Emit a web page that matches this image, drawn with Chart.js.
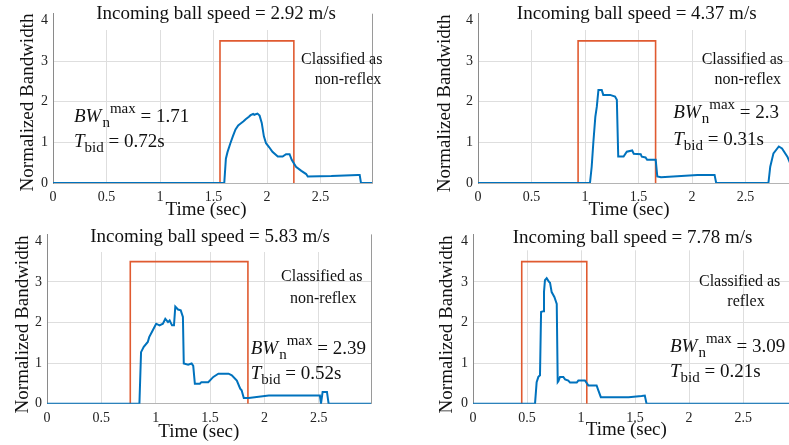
<!DOCTYPE html>
<html>
<head>
<meta charset="utf-8">
<title>Normalized bandwidth vs time</title>
<script src="https://cdn.jsdelivr.net/npm/chart.js@4.4.0/dist/chart.umd.min.js"></script>
<style>
  html, body { margin: 0; padding: 0; overflow: hidden; background: #fff; }
  body { position: relative; width: 789px; height: 445px; }
  canvas { position: absolute; }
</style>
</head>
<body>
<canvas id="c1" width="395" height="222" style="left:0px;top:0px"></canvas>
<canvas id="c2" width="395" height="222" style="left:425px;top:0px"></canvas>
<canvas id="c3" width="395" height="223" style="left:0px;top:222px"></canvas>
<canvas id="c4" width="395" height="223" style="left:420px;top:222px"></canvas>
<script>
// axis ticks
var xTicks = [0, 0.5, 1, 1.5, 2, 2.5];
var yTicks = [0, 1, 2, 3, 4];
var xMax = 2.98;
var yMax = 4.17;

// per panel labels
var speeds = ['2.92', '4.37', '5.83', '7.78'];
var classes = ['non-reflex', 'non-reflex', 'non-reflex', 'reflex'];
var bwMax = ['1.71', '2.3', '2.39', '3.09'];
var tBid = ['0.72s', '0.31s', '0.52s', '0.21s'];

// red classification window (start, end) in sec, and its level
var winStart = [1.56, 0.935, 0.766, 0.451];
var winEnd = [2.25, 1.659, 1.848, 1.053];
var winLevel = 3.5;

// blue curves: time (sec) / normalized bandwidth
var t1 = [0, 1.60, 1.615, 1.63, 1.657, 1.68, 1.705, 1.73, 1.75, 1.78, 1.80, 1.83, 1.846, 1.87, 1.88, 1.91, 1.93, 1.95, 1.97, 1.99, 2.02, 2.05, 2.10, 2.145, 2.177, 2.21, 2.23, 2.27, 2.32, 2.365, 2.38, 2.6, 2.85, 2.865, 2.877, 2.98];
var bw1 = [0, 0, 0.6, 0.76, 0.98, 1.15, 1.32, 1.42, 1.46, 1.52, 1.57, 1.63, 1.67, 1.70, 1.68, 1.71, 1.66, 1.48, 1.15, 0.98, 0.88, 0.77, 0.65, 0.65, 0.71, 0.71, 0.57, 0.40, 0.30, 0.22, 0.16, 0.17, 0.20, 0.20, 0, 0];

var t2 = [0, 1.046, 1.062, 1.077, 1.096, 1.11, 1.125, 1.156, 1.17, 1.234, 1.28, 1.297, 1.31, 1.36, 1.39, 1.44, 1.455, 1.52, 1.53, 1.565, 1.58, 1.66, 1.675, 1.71, 2.05, 2.21, 2.225, 2.713, 2.73, 2.76, 2.81, 2.84, 2.89, 2.93, 2.98];
var bw2 = [0, 0, 0.40, 0.98, 1.63, 1.88, 2.29, 2.29, 2.17, 2.17, 2.13, 2.05, 0.65, 0.65, 0.77, 0.80, 0.72, 0.71, 0.65, 0.63, 0.57, 0.57, 0.16, 0.14, 0.20, 0.20, 0, 0, 0.40, 0.73, 0.90, 0.85, 0.65, 0.40, 0.20];

var t3 = [0, 0.85, 0.865, 0.89, 0.927, 0.94, 0.973, 1.004, 1.035, 1.066, 1.088, 1.113, 1.128, 1.15, 1.168, 1.18, 1.205, 1.23, 1.25, 1.258, 1.298, 1.33, 1.345, 1.36, 1.406, 1.42, 1.483, 1.53, 1.576, 1.67, 1.70, 1.746, 1.777, 1.79, 1.81, 1.855, 2.04, 2.51, 2.52, 2.535, 2.575, 2.59, 2.98];
var bw3 = [0, 0, 1.27, 1.40, 1.52, 1.64, 1.81, 1.97, 1.93, 1.97, 2.09, 2.01, 2.05, 1.93, 1.93, 2.39, 2.32, 2.30, 2.14, 0.99, 0.96, 0.99, 0.93, 0.49, 0.49, 0.53, 0.53, 0.66, 0.74, 0.74, 0.70, 0.57, 0.37, 0.33, 0.14, 0.14, 0.20, 0.20, 0, 0.29, 0.29, 0, 0];

var t4 = [0, 0.574, 0.589, 0.605, 0.62, 0.63, 0.65, 0.657, 0.666, 0.682, 0.703, 0.713, 0.728, 0.753, 0.775, 0.784, 0.79, 0.805, 0.836, 0.852, 0.882, 0.898, 0.96, 0.975, 1.036, 1.067, 1.144, 1.16, 1.183, 1.44, 1.56, 1.59, 1.606, 2.98];
var bw4 = [0, 0, 0.53, 0.66, 0.70, 2.26, 2.28, 2.75, 3.04, 3.09, 3.0, 2.98, 2.75, 2.63, 2.46, 0.53, 0.55, 0.66, 0.66, 0.60, 0.57, 0.52, 0.52, 0.57, 0.57, 0.45, 0.45, 0.33, 0.16, 0.16, 0.19, 0.20, 0, 0];

var times = [t1, t2, t3, t4];
var values = [bw1, bw2, bw3, bw4];

var SERIF = "Liberation Serif";
var BLUE = '#0072BD';
var RED = '#E05A30';
var GRID = '#dedede';

// layout of each panel inside its canvas
var layouts = [
  { yW: 53, xH: 39, padT: 13.7, padR: 23, cover: 30,
    title: [216, 14], cls1: [341.7, 60, 'center'], cls2: [348, 80],
    bw: [74, 121.7], tb: [74, 146.7], yTitle: [28, 102.5], xTitle: [206, 210] },
  { yW: 53, xH: 39, padT: 13.7, padR: 23, cover: 30,
    title: [211.7, 14], cls1: [276.7, 60, 'left'], cls2: [322.7, 80],
    bw: [248.3, 118], tb: [248.3, 145], yTitle: [20, 103.3], xTitle: [204, 210] },
  { yW: 47, xH: 41.3, padT: 12.4, padR: 24, cover: 30,
    title: [210, 15], cls1: [321.7, 55, 'center'], cls2: [323.3, 76.7],
    bw: [250.7, 131.7], tb: [250.7, 156.7], yTitle: [23.3, 102.5], xTitle: [198.8, 210] },
  { yW: 53, xH: 41.3, padT: 12.4, padR: 20, cover: 28.3,
    title: [212.5, 16], cls1: [279, 59.3, 'left'], cls2: [326, 80],
    bw: [250, 130], tb: [250, 155], yTitle: [27.5, 102.5], xTitle: [206.3, 208.3] }
];

function points(xs, ys) {
  var out = [];
  for (var i = 0; i < xs.length; i++) out.push({ x: xs[i], y: ys[i] });
  return out;
}

function windowPoints(i) {
  return points([winStart[i], winStart[i], winEnd[i], winEnd[i]], [0, winLevel, winLevel, 0]);
}

function hideAt(values) {
  return function (c) {
    return values.indexOf(c.tick.value) >= 0 ? 'rgba(0,0,0,0)' : GRID;
  };
}

// white band under the title, plus the right frame line
var coverPlugin = {
  id: 'cover',
  beforeDatasetsDraw: function (chart, args, opts) {
    var a = chart.chartArea, ctx = chart.ctx;
    ctx.save();
    ctx.fillStyle = '#fff';
    ctx.fillRect(a.left + 1, a.top - 1, a.right - a.left - 1, opts.cover - a.top + 1);
    ctx.strokeStyle = '#9a9a9a';
    ctx.lineWidth = 1;
    ctx.beginPath();
    ctx.moveTo(Math.round(a.right) + 0.5, a.top);
    ctx.lineTo(Math.round(a.right) + 0.5, a.bottom);
    ctx.stroke();
    ctx.restore();
  }
};

var textPlugin = {
  id: 'texts',
  afterDraw: function (chart, args, opts) {
    var ctx = chart.ctx, L = opts.lay, i = opts.idx;
    ctx.save();
    ctx.fillStyle = '#111';

    ctx.font = '19px ' + SERIF;
    ctx.textAlign = 'center';
    ctx.textBaseline = 'middle';
    ctx.fillText('Incoming ball speed = ' + speeds[i] + ' m/s', L.title[0], L.title[1]);
    ctx.fillText('Time (sec)', L.xTitle[0], L.xTitle[1]);

    ctx.save();
    ctx.translate(L.yTitle[0], L.yTitle[1]);
    ctx.rotate(-Math.PI / 2);
    ctx.fillText('Normalized Bandwidth', 0, 0);
    ctx.restore();

    ctx.font = '16px ' + SERIF;
    ctx.textAlign = L.cls1[2];
    ctx.fillText('Classified as', L.cls1[0], L.cls1[1]);
    ctx.textAlign = 'center';
    ctx.fillText(classes[i], L.cls2[0], L.cls2[1]);

    // BW_n^max = ...
    ctx.textAlign = 'left';
    ctx.textBaseline = 'alphabetic';
    var x = L.bw[0], y = L.bw[1];
    ctx.font = 'italic 19px ' + SERIF;
    ctx.fillText('BW', x, y);
    x += ctx.measureText('BW').width + 1;
    ctx.font = '15px ' + SERIF;
    ctx.fillText('n', x, y + 5);
    x += ctx.measureText('n').width;
    ctx.fillText('max', x, y - 9);
    x += ctx.measureText('max').width;
    ctx.font = '19px ' + SERIF;
    ctx.fillText(' = ' + bwMax[i], x, y);

    // T_bid = ...
    x = L.tb[0]; y = L.tb[1];
    ctx.font = 'italic 19px ' + SERIF;
    ctx.fillText('T', x, y);
    x += ctx.measureText('T').width;
    ctx.font = '15px ' + SERIF;
    ctx.fillText('bid', x, y + 5);
    x += ctx.measureText('bid').width;
    ctx.font = '19px ' + SERIF;
    ctx.fillText(' = ' + tBid[i], x, y);

    ctx.restore();
  }
};

function makePanel(id, i) {
  var L = layouts[i];
  var tickFont = { family: SERIF, size: 14 };
  new Chart(document.getElementById(id), {
    type: 'line',
    data: {
      datasets: [
        { data: points(times[i], values[i]), borderColor: BLUE, borderWidth: 2, pointRadius: 0, tension: 0, fill: false },
        { data: windowPoints(i), borderColor: RED, borderWidth: 1.6, pointRadius: 0, tension: 0, fill: false }
      ]
    },
    options: {
      responsive: false,
      animation: false,
      events: [],
      layout: { padding: { left: 0, right: L.padR, top: L.padT, bottom: 0 } },
      scales: {
        x: {
          type: 'linear', min: 0, max: xMax,
          afterBuildTicks: function (s) { s.ticks = xTicks.map(function (v) { return { value: v }; }); },
          afterFit: function (s) { s.height = L.xH; s.paddingLeft = 0; s.paddingRight = 0; },
          grid: { color: hideAt([0]), drawTicks: false },
          border: { color: '#b4b4b4', width: 1 },
          ticks: { font: tickFont, color: '#222', padding: 6, autoSkip: false, maxRotation: 0,
                   callback: function (v) { return String(v); } }
        },
        y: {
          min: 0, max: yMax,
          afterBuildTicks: function (s) { s.ticks = yTicks.map(function (v) { return { value: v }; }); },
          afterFit: function (s) { s.width = L.yW; s.paddingTop = 0; s.paddingBottom = 0; },
          grid: { color: hideAt([0, 4]), drawTicks: false },
          border: { color: '#8a8a8a', width: 1 },
          ticks: { font: tickFont, color: '#222', padding: 5, autoSkip: false,
                   callback: function (v) { return String(v); } }
        }
      },
      plugins: {
        legend: { display: false },
        tooltip: { enabled: false },
        cover: { cover: L.cover },
        texts: { lay: L, idx: i }
      }
    },
    plugins: [coverPlugin, textPlugin]
  });
}

makePanel('c1', 0);
makePanel('c2', 1);
makePanel('c3', 2);
makePanel('c4', 3);
</script>
</body>
</html>
